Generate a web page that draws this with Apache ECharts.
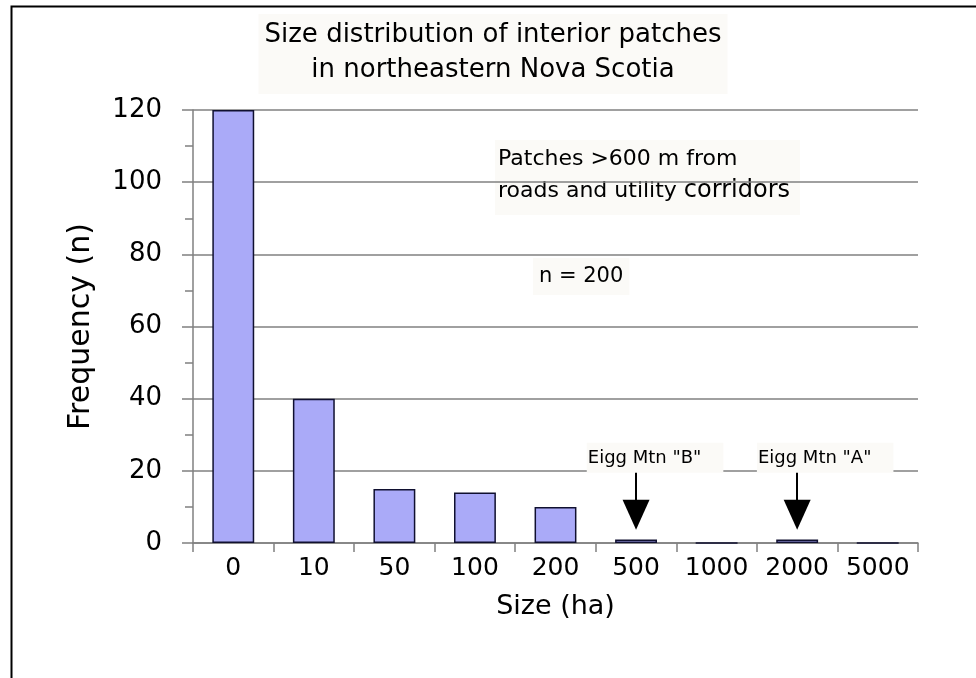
<!DOCTYPE html>
<html>
<head>
<meta charset="utf-8">
<script src="https://cdn.jsdelivr.net/npm/echarts@6/dist/echarts.min.js"></script>
<style>
  html, body { margin: 0; padding: 0; background: #fff; }
  #chart { width: 976px; height: 678px; }
</style>
</head>
<body>
<div id="chart"></div>
<script>
// size classes (ha) and number of patches in each
const sizes = ['0', '10', '50', '100', '200', '500', '1000', '2000', '5000'];
const freq = [120, 40, 15, 14, 10, 1, 0, 1, 0];
const yTicks = [0, 20, 40, 60, 80, 100, 120];
// arrows pointing at the two Eigg Mountain patches
const callouts = [
  { cat: '500', text: 'Eigg Mtn "B"', from: 20.2, to: 7.8 },
  { cat: '2000', text: 'Eigg Mtn "A"', from: 20.2, to: 7.8 }
];

const font = '"DejaVu Sans", Verdana, sans-serif';
const boxFill = '#fbfaf7';
const chart = echarts.init(document.getElementById('chart'));

const options = {
  animation: false,
  backgroundColor: '#fff',
  title: {
    text: 'Size distribution of interior patches\nin northeastern Nova Scotia',
    left: 487,
    top: 14,
    textAlign: 'center',
    backgroundColor: boxFill,
    padding: [4, 6, 6, 6],
    textStyle: { fontFamily: font, fontSize: 26, fontWeight: 'normal', color: '#000', lineHeight: 35 }
  },
  grid: { left: 193, right: 58, top: 110, bottom: 135 },
  xAxis: {
    type: 'category',
    data: sizes,
    name: 'Size (ha)',
    nameLocation: 'middle',
    nameGap: 50,
    nameTextStyle: { fontFamily: font, fontSize: 27, color: '#000' },
    axisLine: { lineStyle: { color: '#808080', width: 1.5 } },
    axisTick: { show: true, interval: 0, length: 9, lineStyle: { color: '#808080', width: 1.5 } },
    axisLabel: { interval: 0, hideOverlap: false, margin: 13, fontFamily: font, fontSize: 25, color: '#000' }
  },
  yAxis: {
    type: 'value',
    min: yTicks[0],
    max: yTicks[yTicks.length - 1],
    interval: 20,
    name: 'Frequency (n)',
    nameLocation: 'middle',
    nameGap: 97,
    nameTextStyle: { fontFamily: font, fontSize: 30, color: '#000' },
    axisLine: { show: true, lineStyle: { color: '#808080', width: 1.5 } },
    axisTick: { show: true, length: 11, lineStyle: { color: '#808080', width: 1.5 } },
    minorTick: { show: true, splitNumber: 2, length: 8, lineStyle: { color: '#808080', width: 1.5 } },
    axisLabel: { margin: 31, fontFamily: font, fontSize: 26, color: '#000' },
    splitLine: { lineStyle: { color: '#808080', width: 1.5 } }
  },
  series: [{
    type: 'bar',
    data: freq,
    barWidth: '52%',
    itemStyle: { color: '#aaaaf8', borderColor: '#101030', borderWidth: 1.5 },
    markLine: {
      silent: true,
      symbol: ['none', 'triangle'],
      symbolSize: [27, 30],
      lineStyle: { color: '#000', width: 2, type: 'solid' },
      label: { show: false },
      data: callouts.map(c => [{ coord: [c.cat, c.from] }, { coord: [c.cat, c.to] }])
    },
    markPoint: {
      silent: true,
      symbol: 'rect',
      symbolSize: 0,
      label: {
        show: true,
        position: 'inside',
        fontFamily: font,
        fontSize: 18,
        color: '#000',
        backgroundColor: boxFill,
        padding: [6, 22, 6, 1]
      },
      data: callouts.map((c, i) => ({
        coord: [c.cat, 23.6],
        value: c.text,
        label: { formatter: c.text, offset: [i === 0 ? 19 : 28, 0] }
      }))
    }
  }],
  graphic: [
    {
      type: 'rect',
      left: 9, top: 4,
      shape: { width: 1000, height: 700 },
      style: { fill: 'none', stroke: '#000', lineWidth: 2 },
      z: -1
    },
    {
      type: 'text',
      left: 495, top: 140,
      style: {
        text: 'Patches >600 m from\nroads and utility {c|corridors}',
        font: '22px ' + font,
        fill: '#000',
        lineHeight: 32,
        backgroundColor: boxFill,
        padding: [3, 10, 8, 3],
        rich: {
          c: { fontFamily: font, fontSize: 24, lineHeight: 32 }
        }
      }
    },
    {
      type: 'text',
      left: 533, top: 258,
      style: {
        text: 'n = 200',
        font: '21px ' + font,
        fill: '#000',
        backgroundColor: boxFill,
        padding: [8, 6, 8, 6]
      }
    }
  ]
};

chart.setOption(options);
</script>
</body>
</html>
